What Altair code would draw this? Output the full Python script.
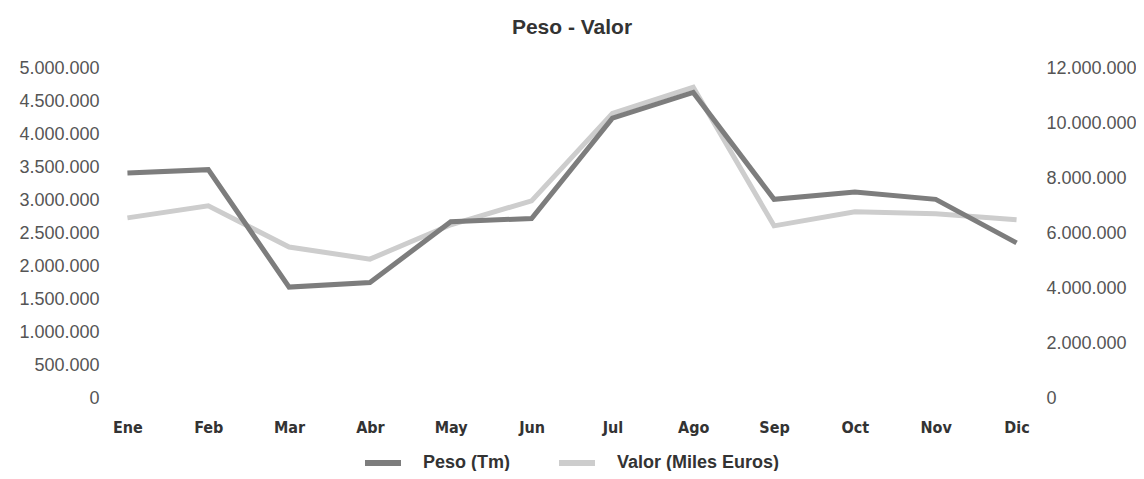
import altair as alt
import pandas as pd

meses = ["Ene", "Feb", "Mar", "Abr", "May", "Jun", "Jul", "Ago", "Sep", "Oct", "Nov", "Dic"]
peso = [3410000, 3460000, 1680000, 1750000, 2670000, 2720000,
        4240000, 4630000, 3010000, 3120000, 3010000, 2350000]
valor = [6550000, 6990000, 5490000, 5050000, 6300000, 7170000,
         10350000, 11300000, 6260000, 6770000, 6700000, 6480000]
series = ["Peso (Tm)", "Valor (Miles Euros)"]
colores = ["#7d7d7d", "#cdcdcd"]
left_ticks = [0, 500000, 1000000, 1500000, 2000000, 2500000,
              3000000, 3500000, 4000000, 4500000, 5000000]
right_ticks = [0, 2000000, 4000000, 6000000, 8000000, 10000000, 12000000]

rows = []
for m, p, v in zip(meses, peso, valor):
    rows.append({"mes": m, "serie": series[0], "valor": p})
    rows.append({"mes": m, "serie": series[1], "valor": v})
df = pd.DataFrame(rows)

fmt = "replace(format(datum.value, ','), regexp(',', 'g'), '.')"
narrow = "Liberation Sans Narrow, DejaVu Sans Condensed, Arial Narrow, sans-serif"

x_enc = alt.X("mes:N", sort=meses, scale=alt.Scale(type="point", padding=0.29),
              axis=alt.Axis(title=None, labelAngle=0, domain=False, ticks=False,
                            grid=False, labelPadding=21, labelFont=narrow,
                            labelFontWeight="bold", labelFontSize=16,
                            labelColor="#333333"))

color_enc = alt.Color("serie:N", scale=alt.Scale(domain=series, range=colores),
                      legend=alt.Legend(title=None, orient="none", direction="horizontal",
                                        legendX=258, legendY=374,
                                        symbolType="stroke", symbolSize=1296,
                                        symbolStrokeWidth=6, labelOffset=19,
                                        columnPadding=36, labelFontSize=18,
                                        labelLimit=400,
                                        labelFont="Liberation Sans", labelFontWeight="bold",
                                        labelColor="#333333"))

base = alt.Chart(df)

left = base.transform_filter(alt.datum.serie == series[0]).mark_line(
    strokeWidth=5, strokeCap="butt", strokeJoin="miter").encode(
    x=x_enc,
    y=alt.Y("valor:Q", scale=alt.Scale(domain=[0, 5000000], nice=False, zero=True),
            axis=alt.Axis(title=None, orient="left", values=left_ticks, labelExpr=fmt,
                          domain=False, ticks=False, grid=False, labelPadding=5,
                          labelFontSize=18, labelFont="Liberation Sans",
                          labelColor="#555555")),
    color=color_enc,
)

right = base.transform_filter(alt.datum.serie == series[1]).mark_line(
    strokeWidth=5, strokeCap="butt", strokeJoin="miter").encode(
    x=x_enc,
    y=alt.Y("valor:Q", scale=alt.Scale(domain=[0, 12000000], nice=False, zero=True),
            axis=alt.Axis(title=None, orient="right", values=right_ticks, labelExpr=fmt,
                          domain=False, ticks=False, grid=False, labelPadding=6,
                          labelFontSize=18, labelFont="Liberation Sans",
                          labelColor="#555555")),
    color=color_enc,
)

chart = alt.layer(right, left).resolve_scale(y="independent").properties(
    width=936, height=330,
    title=alt.TitleParams("Peso - Valor", fontSize=21, fontWeight="bold",
                          font="Liberation Sans", color="#333333", anchor="middle",
                          offset=21),
    autosize=alt.AutoSizeParams(type="none"),
    padding={"left": 96, "top": 60, "right": 96, "bottom": 73},
    background="white",
).configure_view(stroke=None)

chart.save("out.html", embed_options={"renderer": "svg", "actions": False})
